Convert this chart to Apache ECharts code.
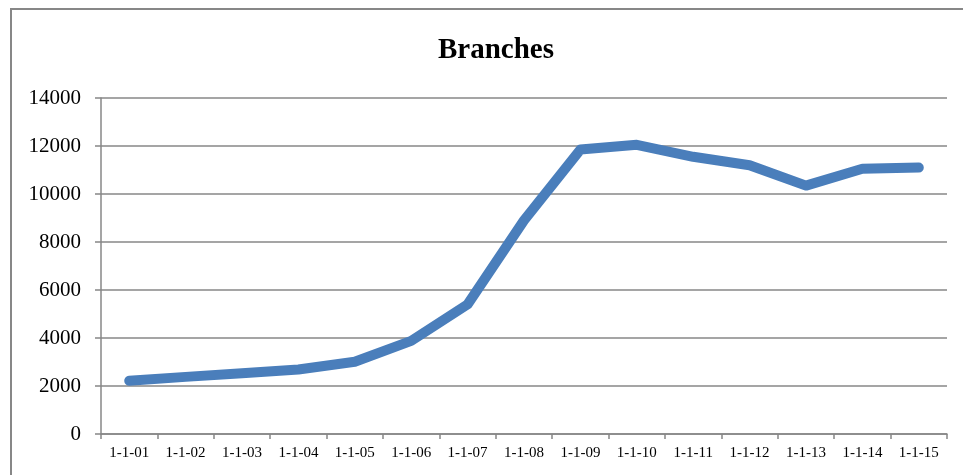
<!DOCTYPE html>
<html>
<head>
<meta charset="utf-8">
<style>
html,body{margin:0;padding:0;background:#fff;}
#chart{width:963px;height:475px;}
</style>
<script src="https://cdn.jsdelivr.net/npm/echarts@6/dist/echarts.min.js"></script>
</head>
<body>
<div id="chart"></div>
<script>
const categories = ['1-1-01','1-1-02','1-1-03','1-1-04','1-1-05','1-1-06','1-1-07','1-1-08','1-1-09','1-1-10','1-1-11','1-1-12','1-1-13','1-1-14','1-1-15'];
const branches = [2220, 2380, 2530, 2690, 3010, 3880, 5400, 8900, 11850, 12050, 11550, 11200, 10350, 11050, 11100];
const yMin = 0, yMax = 14000, yStep = 2000;

const chart = echarts.init(document.getElementById('chart'), null, {renderer: 'canvas'});
const serif = '"Liberation Serif", "DejaVu Serif", serif';
const gray = '#878787';
chart.setOption({
  animation: false,
  backgroundColor: '#fff',
  title: {
    text: 'Branches',
    left: 491,
    textAlign: 'center',
    top: 31,
    textStyle: {fontFamily: serif, fontWeight: 'bold', fontSize: 29, color: '#000'}
  },
  graphic: [{
    type: 'rect',
    shape: {x: 11, y: 9, width: 1000, height: 500},
    style: {fill: 'none', stroke: gray, lineWidth: 2},
    silent: true
  }],
  grid: {left: 101, right: 16, top: 98, bottom: 41, containLabel: false},
  xAxis: {
    type: 'category',
    data: categories,
    boundaryGap: true,
    axisLine: {show: true, lineStyle: {color: gray, width: 1.5}},
    axisTick: {show: true, length: 5, lineStyle: {color: gray, width: 1.5}},
    axisLabel: {fontFamily: serif, fontSize: 15, color: '#000', margin: 12, interval: 0}
  },
  yAxis: {
    type: 'value',
    min: yMin, max: yMax, interval: yStep,
    axisLine: {show: true, lineStyle: {color: gray, width: 1.5}},
    axisTick: {show: true, length: 6, lineStyle: {color: gray, width: 1.5}},
    splitLine: {show: true, lineStyle: {color: gray, width: 1.5}},
    axisLabel: {fontFamily: serif, fontSize: 21, color: '#000', margin: 20, formatter: v => String(v)}
  },
  series: [{
    type: 'line',
    data: branches,
    showSymbol: false,
    symbol: 'none',
    lineStyle: {color: '#4A7EBB', width: 10, cap: 'round', join: 'round'}
  }]
});
</script>
</body>
</html>
